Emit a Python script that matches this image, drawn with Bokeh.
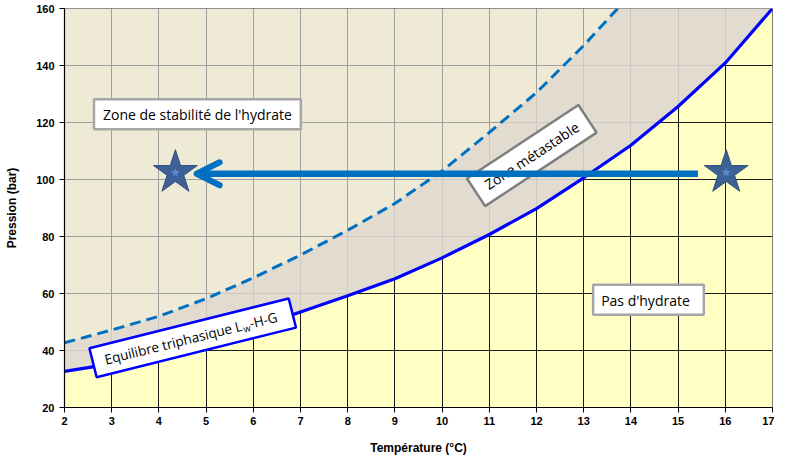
import math
from bokeh.plotting import figure
from bokeh.models import Range1d, FixedTicker, Label, Arrow, OpenHead
from bokeh.embed import file_html
from bokeh.resources import INLINE

# ---- data ----
temp_eq = [2, 3, 4, 5, 6, 7, 8, 9, 10, 11, 12, 13, 14, 15, 16, 17]
pres_eq = [32.7, 35.3, 38.8, 42.9, 47.8, 53.5, 59.2, 65.2, 72.5, 80.7, 89.8, 100.6, 112.0, 125.6, 140.9, 160.0]

temp_meta = [2, 3, 4, 5, 6, 7, 8, 9, 10, 11, 12, 13, 13.72]
pres_meta = [42.7, 47.2, 52.0, 58.2, 65.5, 73.5, 82.2, 91.6, 103.0, 116.5, 130.5, 147.0, 160.0]

star_temp = [4.35, 16.02]
star_pres = [102.4, 102.4]

arrow_temp = [15.42, 4.8]   # start, end
arrow_pres = [102.0, 102.0]

x_ticks = list(range(2, 18))
y_ticks = [20, 40, 60, 80, 100, 120, 140, 160]
x_min, x_max = 2, 17
y_min, y_max = 20, 160

p = figure(width=774, height=457, output_backend="svg", toolbar_location=None,
           x_range=Range1d(x_min, x_max), y_range=Range1d(y_min, y_max),
           min_border_left=64, min_border_right=2, min_border_top=8, min_border_bottom=48)

p.background_fill_color = "#ffffc3"
p.border_fill_color = "white"
p.outline_line_color = "#808080"
p.outline_line_width = 1

p.xaxis.ticker = FixedTicker(ticks=x_ticks)
p.yaxis.ticker = FixedTicker(ticks=y_ticks)
p.xgrid.ticker = FixedTicker(ticks=x_ticks)
p.ygrid.ticker = FixedTicker(ticks=y_ticks)
for g in (p.xgrid, p.ygrid):
    g.grid_line_color = "#1a1a1a"
    g.grid_line_width = 1

for ax in (p.xaxis, p.yaxis):
    ax.axis_line_color = "black"
    ax.axis_line_width = 1.2
    ax.major_tick_line_color = "black"
    ax.major_tick_out = 5
    ax.major_tick_in = 0
    ax.minor_tick_line_color = None
    ax.major_label_text_font = "Liberation Sans"
    ax.major_label_text_font_style = "bold"
    ax.major_label_text_font_size = "11px"
    ax.major_label_text_color = "black"
    ax.axis_label_text_font = "Liberation Sans"
    ax.axis_label_text_font_style = "bold"
    ax.axis_label_text_font_size = "12px"
    ax.axis_label_text_color = "black"

p.xaxis.axis_label = "Température (°C)"
p.yaxis.axis_label = "Pression (bar)"
p.xaxis.major_label_standoff = 4
p.xaxis.axis_label_standoff = 13
p.yaxis.major_label_standoff = 5
p.yaxis.axis_label_standoff = 14

# region above the equilibrium curve (hydrate stable / metastable)
upper_x = temp_eq + [x_min]
upper_y = pres_eq + [y_max]
p.patch(upper_x, upper_y, fill_color="#e7e0de", fill_alpha=0.67, line_color=None)

# metastable band between the two curves
band_x = temp_meta + temp_eq[::-1]
band_y = pres_meta + pres_eq[::-1]
p.patch(band_x, band_y, fill_color="#ded6cd", fill_alpha=0.75, line_color=None)

# curves
p.line(temp_meta, pres_meta, line_color="#0070c0", line_width=3, line_dash="11 6")
p.line(temp_eq, pres_eq, line_color="#0000ff", line_width=3.2)

# stars
p.scatter(star_temp, star_pres, marker="star", size=46, fill_color="#3d6096",
          line_color="#2f5080", line_width=1)
p.scatter(star_temp, star_pres, marker="star", size=10, fill_color="#5a8ad0",
          line_color=None)

BOX_FONT = "Open Sans"

# horizontal text boxes (anchored at their left edge)
p.add_layout(Label(x=2.625, y=122.9, text="Zone de stabilité de l'hydrate",
                   text_align="left", text_baseline="middle",
                   text_font=BOX_FONT, text_font_size="14px", text_color="black",
                   background_fill_color="white", border_line_color="#a6a6a6",
                   border_line_width=2.5,
                   padding=dict(left=9, right=9, top=6, bottom=5)))
p.add_layout(Label(x=13.2, y=57.8, text="Pas d'hydrate",
                   text_align="left", text_baseline="middle",
                   text_font=BOX_FONT, text_font_size="14px", text_color="black",
                   background_fill_color="white", border_line_color="#a6a6a6",
                   border_line_width=2.5,
                   padding=dict(left=8, right=14, top=6, bottom=5)))

# rotated box on the equilibrium curve: "Equilibre triphasique L_w-H-G"
th = math.radians(14)
ux, uy = math.cos(th), math.sin(th)
vx, vy = -math.sin(th), math.cos(th)

def off(a, b):
    return a * ux + b * vx, a * uy + b * vy

cx, cy = 4.71, 44.4
ax_, ay_ = off(103, 0)
p.add_layout(Label(x=cx, y=cy, x_offset=ax_, y_offset=ay_, angle=th,
                   text="Equilibre triphasique L", text_align="right",
                   text_baseline="middle", text_font=BOX_FONT,
                   text_font_size="13.5px", text_color="black",
                   background_fill_color="white", border_line_color="#0000ff",
                   border_line_width=2.5,
                   padding=dict(left=12, right=52, top=6, bottom=6)))
wx, wy = off(51.6, -4)
p.add_layout(Label(x=cx, y=cy, x_offset=wx, y_offset=wy, angle=th,
                   text="w", text_align="left", text_baseline="middle",
                   text_font=BOX_FONT, text_font_size="9.5px", text_color="black"))
hx, hy = off(58.8, 0)
p.add_layout(Label(x=cx, y=cy, x_offset=hx, y_offset=hy, angle=th,
                   text="-H-G", text_align="left", text_baseline="middle",
                   text_font=BOX_FONT, text_font_size="13.5px", text_color="black"))

# rotated box in the metastable band
p.add_layout(Label(x=11.9, y=108.4, angle=math.radians(33.4),
                   text="Zone métastable", text_align="center", text_baseline="middle",
                   text_font=BOX_FONT, text_font_size="14px", text_color="black",
                   background_fill_color="white", border_line_color="#7f7f7f",
                   border_line_width=2.5,
                   padding=dict(left=12, right=12, top=7, bottom=7)))

# arrow (drawn on top of the metastable label)
p.add_layout(Arrow(x_start=arrow_temp[0], y_start=arrow_pres[0],
                   x_end=arrow_temp[1], y_end=arrow_pres[1],
                   line_color="#0070c0", line_width=6.5,
                   end=OpenHead(size=23, line_color="#0070c0", line_width=6,
                                line_cap="round", line_join="round")))

open("out.html", "w").write(file_html(p, INLINE))
